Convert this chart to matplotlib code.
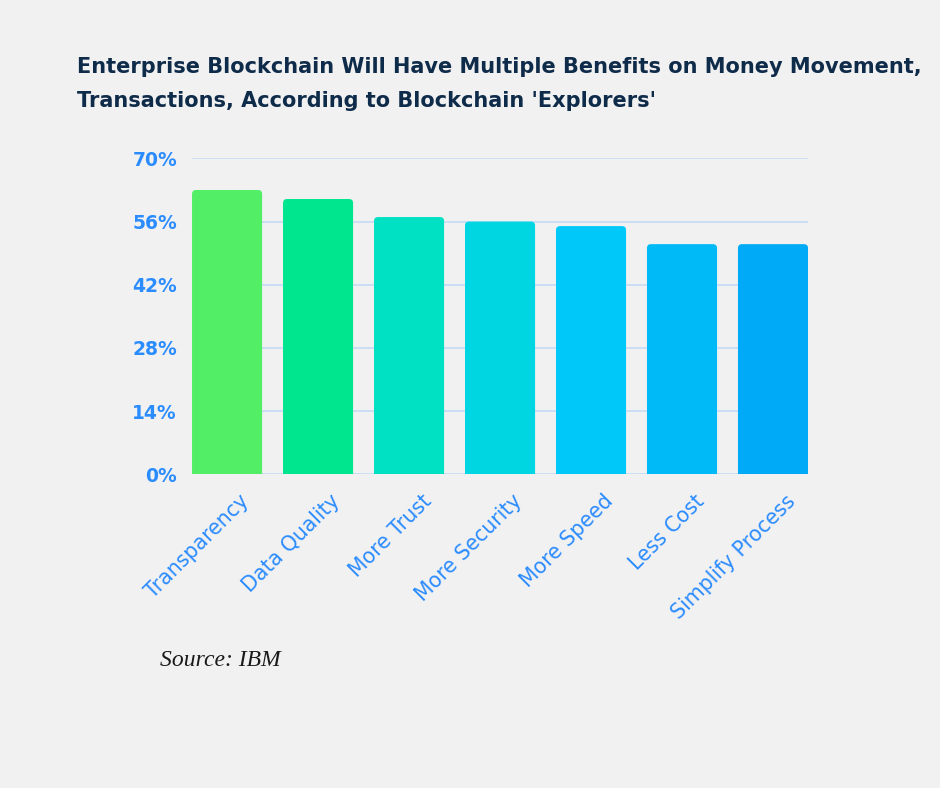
import numpy as np
import matplotlib
matplotlib.use("Agg")
from matplotlib import pyplot as plt
from matplotlib.patches import FancyBboxPatch

categories = ["Transparency", "Data Quality", "More Trust", "More Security",
              "More Speed", "Less Cost", "Simplify Process"]
values = [63, 61, 57, 56, 55, 51, 51]
bar_colors = ["#52ee66", "#00e68f", "#00e0c2", "#00d6e2",
              "#00c8f8", "#00baf8", "#00aaf6"]
y_ticks = [0, 14, 28, 42, 56, 70]
title_lines = ["Enterprise Blockchain Will Have Multiple Benefits on Money Movement,",
               "Transactions, According to Blockchain 'Explorers'"]
source = "Source: IBM"

bg = "#f1f1f1"
blue = "#2b8cff"
navy = "#0f2b4a"

fig = plt.figure(figsize=(9.4, 7.88), dpi=100, facecolor=bg)
ax = fig.add_axes([0.2043, 0.398, 0.6553, 0.401], facecolor=bg)

x = np.arange(len(categories))
width = 0.77
bars = ax.bar(x, values, width=width, color=bar_colors, zorder=3)

# swap plain bars for ones with slightly rounded tops
ax.set_xlim(-width / 2, len(categories) - 1 + width / 2)
ax.set_ylim(0, 70)
px_x = 616 / (len(categories) - 1 + width)
px_y = 316 / 70
for b in bars:
    b.set_visible(False)
    p = FancyBboxPatch((b.get_x(), -3), b.get_width(), b.get_height() + 3,
                       boxstyle="round,pad=0,rounding_size=%f" % (4 / px_x),
                       mutation_aspect=px_x / px_y,
                       facecolor=b.get_facecolor(), edgecolor="none", zorder=3)
    ax.add_patch(p)

ax.set_yticks(y_ticks)
ax.set_yticklabels([f"{t}%" for t in y_ticks])
ax.grid(axis="y", color="#c9ddf5", linewidth=1.3, zorder=0)
ax.set_axisbelow(True)
for s in ax.spines.values():
    s.set_visible(False)
ax.tick_params(axis="both", length=0, colors=blue)
ax.tick_params(axis="y", pad=10.8)
for lab in ax.get_yticklabels():
    lab.set_fontfamily("DejaVu Sans")
    lab.set_fontweight("bold")
    lab.set_fontsize(13.5)
    lab.set_color(blue)

# labels sit a little right of each bar centre, like the original
ax.set_xticks(x + 0.21)
ax.set_xticklabels(categories, rotation=45, ha="right", va="center",
                   rotation_mode="anchor", fontsize=14.8, color=blue,
                   family="DejaVu Sans")
ax.tick_params(axis="x", pad=17)

fig.text(0.082, 0.9074, title_lines[0], ha="left", va="baseline", fontsize=15,
         fontweight="bold", color=navy, family="DejaVu Sans")
fig.text(0.082, 0.8642, title_lines[1], ha="left", va="baseline", fontsize=15,
         fontweight="bold", color=navy, family="DejaVu Sans")
fig.text(0.17, 0.1624, source, ha="left", va="center", fontsize=17,
         style="italic", color="#1a1a1a", family="Liberation Serif")

fig.savefig("out.png", dpi=100, facecolor=bg)
